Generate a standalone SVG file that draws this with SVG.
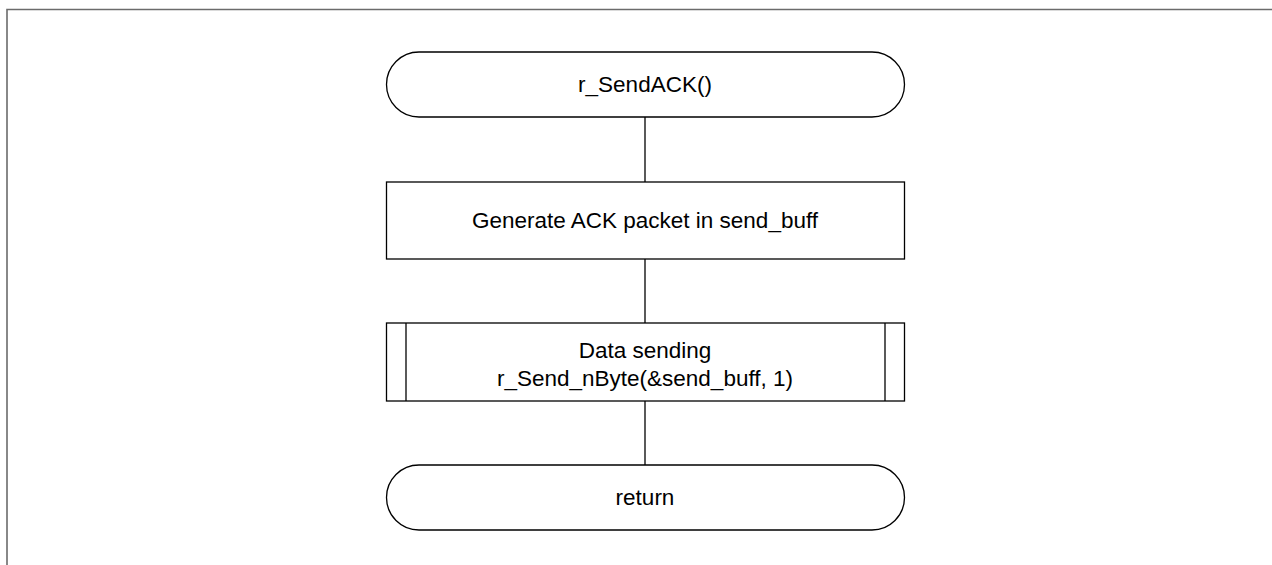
<svg xmlns="http://www.w3.org/2000/svg" width="1272" height="565" viewBox="0 0 1272 565">
  <style>
    .shape { fill: #ffffff; stroke: #000000; stroke-width: 1.3; }
    .edge { fill: none; stroke: #000000; stroke-width: 1.3; }
    .label { font-family: "Liberation Sans", Arial, sans-serif; font-size: 22.5px; fill: #000000; text-anchor: middle; }
  </style>
  <rect width="1272" height="565" fill="#ffffff"/>
  <!-- outer frame -->
  <path d="M7 565 V9.5 H1272" fill="none" stroke="#6b6b6b" stroke-width="1.6"/>

  <g id="connectors">
    <line class="edge" x1="645" y1="117" x2="645" y2="182"/>
    <line class="edge" x1="645" y1="259" x2="645" y2="323"/>
    <line class="edge" x1="645" y1="401" x2="645" y2="465"/>
  </g>

  <g id="start">
    <rect class="shape" x="386.5" y="52" width="518" height="65" rx="32.5" ry="32.5"/>
    <text class="label" x="645" y="92">r_SendACK()</text>
  </g>

  <g id="generate">
    <rect class="shape" x="386.5" y="182" width="518" height="77"/>
    <text class="label" x="645" y="228">Generate ACK packet in send_buff</text>
  </g>

  <g id="send">
    <rect class="shape" x="386.5" y="323" width="518" height="78"/>
    <line class="edge" x1="406" y1="323" x2="406" y2="401"/>
    <line class="edge" x1="885" y1="323" x2="885" y2="401"/>
    <text class="label" x="645" y="358">Data sending</text>
    <text class="label" x="645" y="386">r_Send_nByte(&amp;send_buff, 1)</text>
  </g>

  <g id="end">
    <rect class="shape" x="386.5" y="465" width="518" height="65" rx="32.5" ry="32.5"/>
    <text class="label" x="645" y="505">return</text>
  </g>
</svg>
